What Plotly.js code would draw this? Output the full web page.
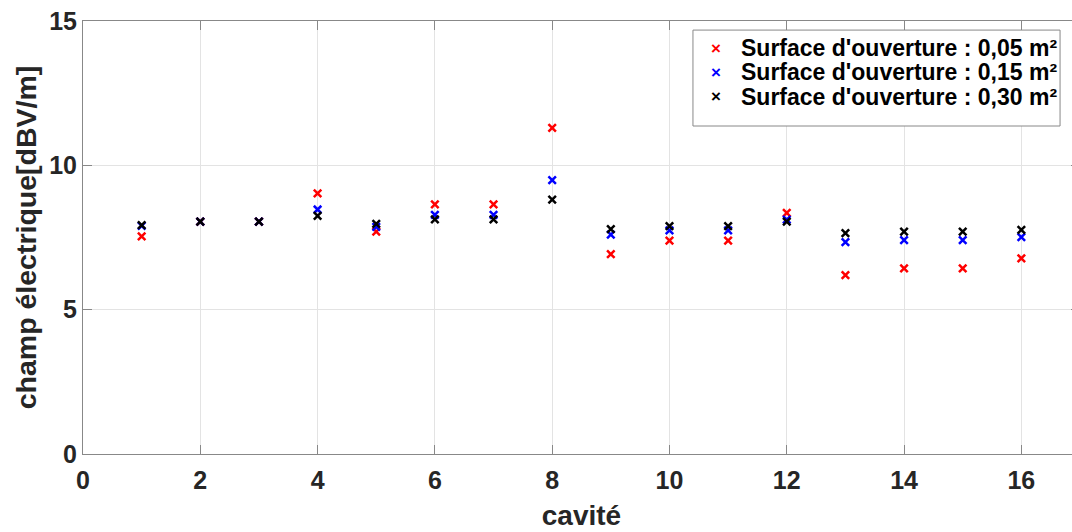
<!DOCTYPE html>
<html>
<head>
<meta charset="utf-8">
<script src="https://cdn.plot.ly/plotly-3.0.1.min.js"></script>
<style>
html,body{margin:0;padding:0;overflow:hidden;background:#fff;width:1072px;height:532px;}
#chart{width:1080px;height:532px;}
</style>
</head>
<body>
<div id="chart"></div>
<script>
const cavite = [1,2,3,4,5,6,7,8,9,10,11,12,13,14,15,16];
const surface005 = [7.54,8.05,8.05,9.03,7.70,8.65,8.65,11.30,6.92,7.39,7.39,8.35,6.20,6.43,6.43,6.78];
const surface015 = [7.90,8.05,8.05,8.47,7.87,8.28,8.28,9.49,7.60,7.75,7.75,8.12,7.34,7.41,7.41,7.51];
const surface030 = [7.93,8.05,8.05,8.25,7.97,8.13,8.13,8.81,7.79,7.89,7.89,8.05,7.65,7.70,7.70,7.76];
const seriesNames = ["Surface d'ouverture : 0,05 m²","Surface d'ouverture : 0,15 m²","Surface d'ouverture : 0,30 m²"];
const seriesColors = ["#ff0000","#0000ff","#000000"];
const seriesValues = [surface005, surface015, surface030];

const traces = seriesValues.map((vals,i)=>({
  x: cavite, y: vals, type:'scatter', mode:'markers', name: seriesNames[i], showlegend:false,
  marker:{symbol:'x-thin', size:7.5, color:seriesColors[i], line:{width:2.5, color:seriesColors[i]}}
}));

const font = "Liberation Sans, Arial, sans-serif";

// custom legend (compact row spacing like the reference)
const legX0 = 0.6118, legX1 = 0.98, legY0 = 0.7575, legY1 = 0.979;
const rowY = [0.9376, 0.8822, 0.8245];
const annotations = [];
seriesNames.forEach((nm,i)=>{
  annotations.push({xref:'paper', yref:'paper', x:0.635, y:rowY[i], xanchor:'center', yanchor:'middle',
    text:'×', showarrow:false, font:{family:font, size:17, color:seriesColors[i], weight:'bold'}});
  annotations.push({xref:'paper', yref:'paper', x:0.658, y:rowY[i], xanchor:'left', yanchor:'middle',
    text:nm, showarrow:false, font:{family:font, size:23, color:'#000', weight:'bold'}});
});

const layout = {
  width:1080, height:532,
  margin:{l:83, r:0, t:21, b:78},
  paper_bgcolor:'#fff', plot_bgcolor:'#fff',
  showlegend:false,
  shapes:[{type:'rect', xref:'paper', yref:'paper', x0:legX0, x1:legX1, y0:legY0, y1:legY1,
    fillcolor:'#fff', line:{color:'#888', width:1}, layer:'above'}],
  annotations: annotations,
  xaxis:{range:[0,17], tickvals:[0,2,4,6,8,10,12,14,16], showgrid:true, gridcolor:'#e3e3e3',
    zeroline:false, showline:true, linecolor:'#888', linewidth:1, mirror:'ticks',
    ticks:'inside', ticklen:9, tickcolor:'#888', ticklabelstandoff:4,
    tickfont:{family:font, size:25, color:'#262626', weight:'bold'},
    title:{text:'cavité', font:{family:font, size:28, color:'#262626', weight:'bold'}, standoff:12}},
  yaxis:{range:[0,15], tickvals:[0,5,10,15], showgrid:true, gridcolor:'#e3e3e3',
    zeroline:false, showline:true, linecolor:'#888', linewidth:1, mirror:'ticks',
    ticks:'inside', ticklen:9, tickcolor:'#888',
    tickfont:{family:font, size:25, color:'#262626', weight:'bold'},
    title:{text:'champ électrique[dBV/m]', font:{family:font, size:28.5, color:'#262626', weight:'bold'}, standoff:4}}
};
Plotly.newPlot('chart', traces, layout, {displayModeBar:false, staticPlot:true});
</script>
</body>
</html>
